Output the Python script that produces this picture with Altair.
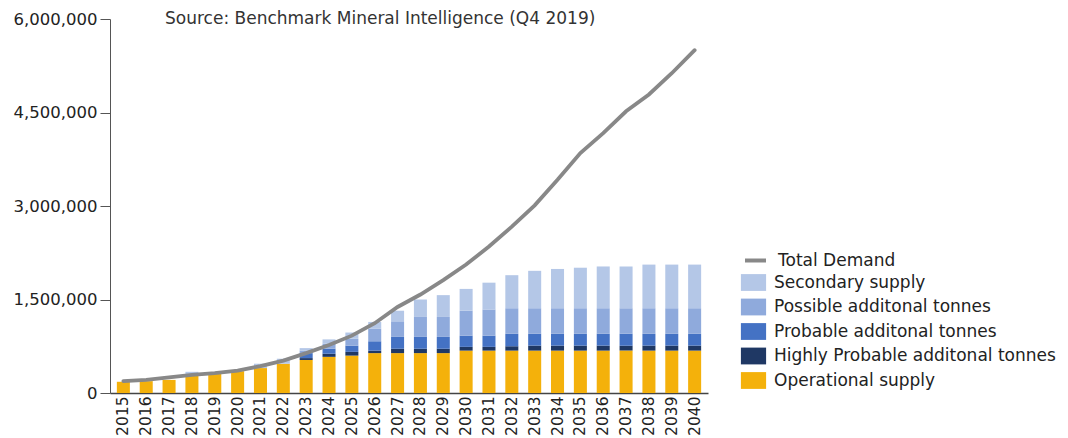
import altair as alt
import pandas as pd

years = [str(y) for y in range(2015, 2041)]

operational = [180000, 190000, 210000, 280000, 310000, 350000, 400000, 470000, 530000, 580000,
               600000, 640000, 640000, 640000, 640000, 680000, 680000, 680000, 680000, 680000,
               680000, 680000, 680000, 680000, 680000, 680000]
highly_probable = [0, 0, 0, 0, 0, 0, 0, 0, 30000, 50000,
                   60000, 40000, 70000, 70000, 70000, 60000, 60000, 70000, 80000, 80000,
                   80000, 80000, 80000, 80000, 80000, 80000]
probable = [0, 0, 0, 0, 0, 0, 0, 0, 80000, 80000,
            100000, 150000, 190000, 190000, 190000, 180000, 180000, 200000, 190000, 190000,
            190000, 190000, 190000, 190000, 190000, 190000]
possible = [0, 0, 0, 0, 0, 0, 0, 0, 40000, 80000,
            110000, 200000, 250000, 320000, 320000, 400000, 420000, 410000, 410000, 410000,
            410000, 410000, 410000, 410000, 410000, 410000]
secondary = [0, 0, 0, 60000, 0, 0, 70000, 80000, 40000, 70000,
             100000, 110000, 170000, 280000, 350000, 350000, 430000, 530000, 600000, 630000,
             650000, 670000, 670000, 700000, 700000, 700000]
demand = [190000, 210000, 250000, 290000, 320000, 360000, 430000, 520000, 640000, 770000,
          920000, 1120000, 1380000, 1580000, 1810000, 2060000, 2350000, 2670000, 3010000, 3420000,
          3850000, 4170000, 4520000, 4790000, 5130000, 5500000]

series_names = ["Operational supply", "Highly Probable additonal tonnes", "Probable additonal tonnes",
                "Possible additonal tonnes", "Secondary supply"]
series_values = [operational, highly_probable, probable, possible, secondary]
legend_order = ["Secondary supply", "Possible additonal tonnes", "Probable additonal tonnes",
                "Highly Probable additonal tonnes", "Operational supply"]
legend_colors = ["#B4C7E7", "#8FAADC", "#4472C4", "#1F3864", "#F4B10B"]
y_ticks = [0, 1500000, 3000000, 4500000, 6000000]
source_text = "Source: Benchmark Mineral Intelligence (Q4 2019)"

rows = []
for rank, (name, vals) in enumerate(zip(series_names, series_values)):
    for yr, v in zip(years, vals):
        rows.append({"year": yr, "series": name, "value": v, "rank": rank})
df = pd.DataFrame(rows)
dfd = pd.DataFrame({"year": years, "demand": demand, "label": "Total Demand"})

FONT = "DejaVu Sans"

xenc = alt.X("year:N", sort=years,
             scale=alt.Scale(paddingInner=0.43, paddingOuter=0.3),
             axis=alt.Axis(title=None, labelAngle=270, labelAlign="right", labelBaseline="middle",
                           labelFontSize=15.5, labelColor="#222", labelPadding=3, ticks=False,
                           domainColor="#444", domainWidth=1.5, labelFont=FONT))

bars = alt.Chart(df).mark_bar().encode(
    x=xenc,
    y=alt.Y("value:Q", stack="zero", scale=alt.Scale(domain=[0, 6000000], nice=False),
            axis=alt.Axis(title=None, values=y_ticks, format=",d", grid=False, tickSize=10,
                          tickColor="#555", domainColor="#555", labelFontSize=16.5, labelColor="#222",
                          labelPadding=3, labelFont=FONT)),
    color=alt.Color("series:N", scale=alt.Scale(domain=legend_order, range=legend_colors),
                    legend=alt.Legend(title=None, orient="none", legendX=633, legendY=253,
                                      symbolType="M-1.2,-0.8H1.2V0.8H-1.2Z", symbolSize=441,
                                      symbolStrokeWidth=0, labelFontSize=17, labelFont=FONT,
                                      labelColor="#222", labelOffset=10, rowPadding=5.5, padding=0,
                                      labelLimit=400)),
    order=alt.Order("rank:Q", sort="ascending"),
)

line = alt.Chart(dfd).mark_line(strokeWidth=3.8, strokeCap="round").encode(
    x=alt.X("year:N", sort=years),
    y=alt.Y("demand:Q"),
    stroke=alt.Stroke("label:N", scale=alt.Scale(domain=["Total Demand"], range=["#888888"]),
                      legend=alt.Legend(title=None, orient="none", legendX=633, legendY=229,
                                        symbolType="stroke", symbolSize=441, symbolStrokeWidth=4,
                                        labelFontSize=17, labelFont=FONT, labelColor="#222",
                                        labelOffset=10, padding=0, labelLimit=400)),
)

text = alt.Chart(pd.DataFrame({"t": [source_text]})).mark_text(
    align="left", baseline="middle", fontSize=17, font=FONT, color="#333"
).encode(text="t:N", x=alt.value(55), y=alt.value(0))

chart = alt.layer(bars, line, text).properties(
    width=598, height=374,
    padding={"left": 5, "top": 2, "right": 0, "bottom": 0},
    background="white",
).configure_view(stroke=None)

chart.save("out.html", embed_options={"renderer": "svg", "actions": False})
